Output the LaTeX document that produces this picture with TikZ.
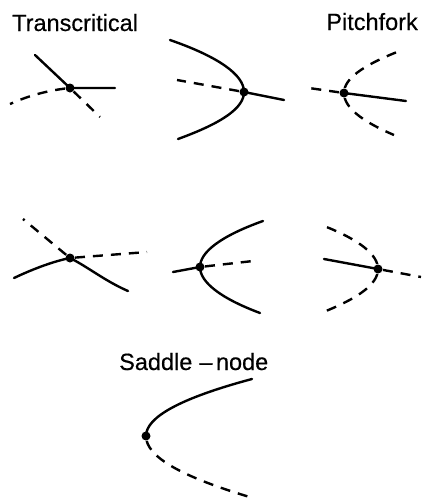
\documentclass[tikz,border=0pt]{standalone}
\usepackage{fontspec}
\setmainfont[FakeBold=0.4]{Liberation Sans}
\begin{document}
\begin{tikzpicture}[x=1pt,y=-1pt,
  solidl/.style={line width=2.4pt,line cap=round},
  dashl/.style={line width=2.4pt,dash pattern=on 10pt off 8pt,dash phase=13pt},
  bdot/.style={circle,fill=black,inner sep=0pt,minimum size=9pt},
  lbl/.style={inner sep=0pt,font=\fontsize{23.5}{28}\selectfont}]
\useasboundingbox (0,0) rectangle (422,501);
% labels
\node[lbl,anchor=base west] (ltc) at (12,31) {Transcritical};
\node[lbl,anchor=base east] (lpf) at (418,30) {Pitchfork};
\node[lbl,anchor=base west] (lsn) at (119,370) {Saddle\hspace{0.3em}–\hspace{0.15em}node};
% ---------- Panel 1: transcritical (top) ----------
\node[bdot] (d1) at (70,88) {};
\coordinate (a1) at (35,55);
\coordinate (b1) at (115,88);
\coordinate (c1) at (10,104);
\coordinate (e1) at (100,117);
\draw[solidl] (a1) -- (d1.center) -- (b1);
\draw[dashl] (d1.center) .. controls (50,90) and (30,95) .. (c1);
\draw[dashl] (d1.center) -- (e1);
% ---------- Panel 2: parabola opening left (top middle) ----------
\node[bdot] (d2) at (244,92) {};
\coordinate (a2) at (170,40);
\coordinate (b2) at (178,139);
\coordinate (c2) at (177,80);
\coordinate (e2) at (284,100);
\draw[solidl] (a2) .. controls (219,57) and (244,75) .. (d2.center)
  .. controls (244,108) and (222,123) .. (b2);
\draw[dashl] (d2.center) -- (c2);
\draw[solidl] (d2.center) -- (e2);
% ---------- Panel 3: pitchfork (top right) ----------
\node[bdot] (d3) at (344,93) {};
\coordinate (a3) at (309,88);
\coordinate (b3) at (406,101);
\coordinate (c3) at (397,52);
\coordinate (e3) at (394,135);
\draw[dashl] (d3.center) -- (a3);
\draw[solidl] (d3.center) -- (b3);
\draw[dashl] (d3.center) .. controls (344,79) and (362,66) .. (c3);
\draw[dashl] (d3.center) .. controls (344,107) and (361,121) .. (e3);
% ---------- Panel 4: transcritical (bottom left) ----------
\node[bdot] (d4) at (70,258) {};
\coordinate (a4) at (23,219);
\coordinate (b4) at (147,252);
\coordinate (c4) at (14,278);
\coordinate (e4) at (128,291);
\draw[dashl] (d4.center) -- (a4);
\draw[dashl] (d4.center) -- (b4);
\draw[solidl] (c4) .. controls (35,268) and (55,261) .. (d4.center)
  .. controls (88,267) and (105,281) .. (e4);
% ---------- Panel 5: parabola opening right (bottom middle) ----------
\node[bdot] (d5) at (200,267) {};
\coordinate (a5) at (173,272);
\coordinate (b5) at (253,261);
\coordinate (c5) at (263,221);
\coordinate (e5) at (260,313);
\draw[solidl] (a5) -- (d5.center);
\draw[dashl] (d5.center) -- (b5);
\draw[solidl] (c5) .. controls (221,236) and (200,252) .. (d5.center)
  .. controls (200,282) and (220,298) .. (e5);
% ---------- Panel 6: pitchfork (bottom right) ----------
\node[bdot] (d6) at (378,269) {};
\coordinate (a6) at (324,259);
\coordinate (b6) at (421,277);
\coordinate (c6) at (324,226);
\coordinate (e6) at (321,313);
\draw[solidl] (a6) -- (d6.center);
\draw[dashl] (d6.center) -- (b6);
\draw[dashl] (d6.center) .. controls (378,255) and (360,240) .. (c6);
\draw[dashl] (d6.center) .. controls (378,284) and (359,298) .. (e6);
% ---------- Saddle-node ----------
\node[bdot] (d7) at (146,436) {};
\coordinate (a7) at (252,379);
\coordinate (b7) at (253,498);
\draw[solidl] (d7.center) .. controls (146,417) and (181,398) .. (a7);
\draw[dashl] (d7.center) .. controls (146,457) and (182,477) .. (b7);
\end{tikzpicture}
\end{document}
